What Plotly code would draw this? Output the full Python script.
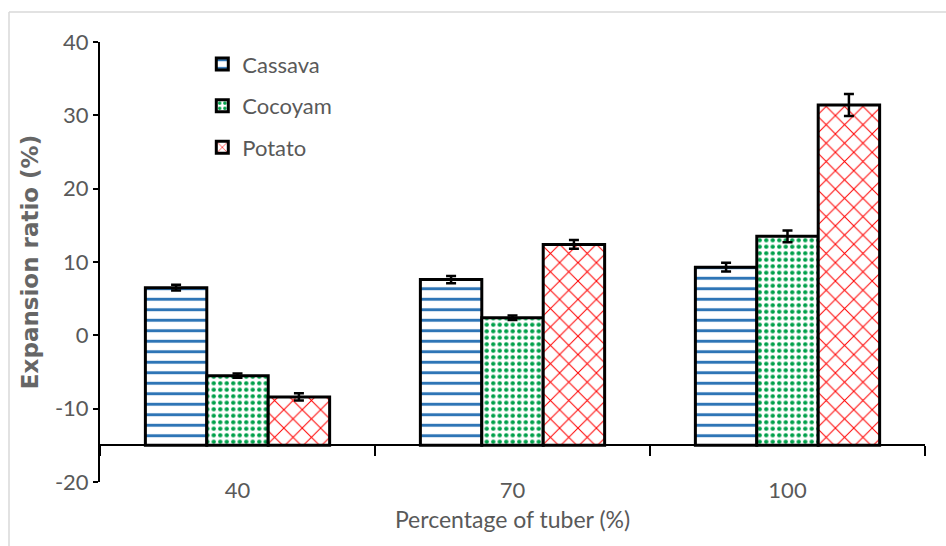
import plotly.graph_objects as go

# Tuber substitution levels (%)
tuber_pct = ["40", "70", "100"]

# Expansion ratio (%) per tuber type
cassava = [6.5, 7.6, 9.3]
cocoyam = [-5.5, 2.4, 13.5]
potato = [-8.4, 12.4, 31.4]

# Standard errors
cassava_err = [0.4, 0.5, 0.6]
cocoyam_err = [0.3, 0.3, 0.8]
potato_err = [0.5, 0.6, 1.5]

# Value axis ticks
y_ticks = [-20, -10, 0, 10, 20, 30, 40]

Y_MIN, Y_MAX = -20, 40
BAR_BASE = -15  # bars rise from the category axis line

series = [
    ("Cassava", cassava, cassava_err,
     dict(shape="-", fgcolor="#2E75B6", size=10.5, solidity=0.28)),
    ("Cocoyam", cocoyam, cocoyam_err,
     dict(shape=".", fgcolor="#00A04A", size=6.5, solidity=0.35)),
    ("Potato", potato, potato_err,
     dict(shape="x", fgcolor="#FF0000", size=13, solidity=0.15)),
]

fig = go.Figure()
for i, (name, vals, errs, pat) in enumerate(series):
    fig.add_trace(go.Bar(
        name=name,
        x=tuber_pct,
        y=[v - BAR_BASE for v in vals],
        base=BAR_BASE,
        legendgroup=f"g{i}",
        marker=dict(
            color="white",
            pattern=dict(bgcolor="white", fillmode="overlay", fgopacity=1, **pat),
            line=dict(color="black", width=3),
        ),
        error_y=dict(type="data", array=errs, visible=True,
                     color="black", thickness=2.5, width=5),
    ))

label_font = "Lato, Liberation Sans Narrow, sans-serif"
gray = "#595959"

axis_pos = (BAR_BASE - Y_MIN) / (Y_MAX - Y_MIN)

fig.update_layout(
    width=946,
    height=546,
    margin=dict(l=100, r=21, t=42, b=64),
    paper_bgcolor="white",
    plot_bgcolor="white",
    barmode="group",
    bargap=0.33,
    bargroupgap=0,
    font=dict(family=label_font, color=gray, size=22),
    legend=dict(
        x=0.124, y=0.997, xanchor="left", yanchor="top",
        font=dict(family=label_font, size=22, color=gray),
        tracegroupgap=10,
        traceorder="grouped",
        bgcolor="rgba(0,0,0,0)",
        itemwidth=30,
    ),
    xaxis=dict(
        type="category",
        anchor="free",
        position=axis_pos,
        showline=True, linecolor="black", linewidth=1.5,
        ticks="outside", tickson="boundaries", ticklen=10,
        tickcolor="black", tickwidth=1.5,
        ticklabelstandoff=26,
        tickfont=dict(family=label_font, size=22, color=gray),
        title=dict(text="Percentage of tuber (%)", standoff=8,
                   font=dict(family=label_font, size=23, color=gray)),
        showgrid=False,
        automargin=False,
    ),
    yaxis=dict(
        range=[Y_MIN, Y_MAX],
        tickmode="array",
        tickvals=y_ticks,
        ticktext=[str(v) for v in y_ticks],
        showline=True, linecolor="black", linewidth=2,
        ticks="outside", ticklen=5, tickcolor="black", tickwidth=2,
        tickfont=dict(family=label_font, size=22, color=gray),
        title=dict(text="<b>Expansion ratio (%)</b>", standoff=10,
                   font=dict(family="DejaVu Sans, sans-serif", size=23, color="#666666")),
        showgrid=False,
        zeroline=False,
        automargin=False,
    ),
    shapes=[
        # light frame along the top and left edges of the figure
        dict(type="line", xref="paper", yref="paper",
             x0=-91 / 825, x1=846 / 825, y0=470 / 440, y1=470 / 440,
             line=dict(color="#D9D9D9", width=1.5)),
        dict(type="line", xref="paper", yref="paper",
             x0=-91 / 825, x1=-91 / 825, y0=470 / 440, y1=-64 / 440,
             line=dict(color="#D9D9D9", width=1.5)),
    ],
)

fig.write_html("out.html")
